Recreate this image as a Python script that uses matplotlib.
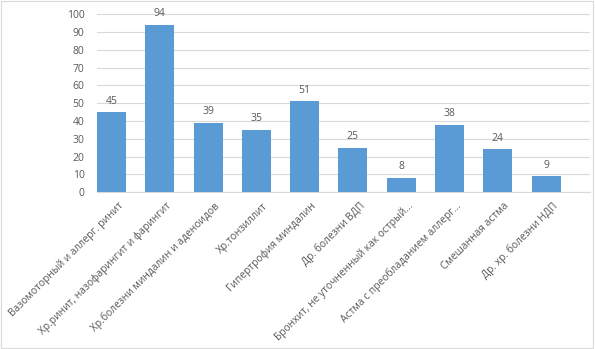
import matplotlib.pyplot as plt
import matplotlib.transforms as mtransforms
from matplotlib.patches import Rectangle

categories = [
    "Вазомоторный и аллерг. ринит",
    "Хр.ринит, назофарингит и фарингит",
    "Хр.болезни миндалин и аденоидов",
    "Хр.тонзиллит",
    "Гипертрофия миндалин",
    "Др. болезни ВДП",
    "Бронхит, не уточненный как острый...",
    "Астма с преобладанием аллерг...",
    "Смешанная астма",
    "Др. хр. болезни НДП",
]
values = [45, 94, 39, 35, 51, 25, 8, 38, 24, 9]

plt.rcParams['font.family'] = ['Open Sans', 'DejaVu Sans']
text_color = "#595959"

fig = plt.figure(figsize=(5.95, 3.49), dpi=100)
ax = fig.add_axes([0.163, 0.4496, 0.8286, 0.5095])

x = list(range(len(values)))
bars = ax.bar(x, values, width=0.6, color="#5b9bd5", zorder=3)
for b, v in zip(bars, values):
    ax.annotate(str(v), (b.get_x() + b.get_width() / 2, v), xytext=(0, 4),
                textcoords="offset points", ha="center", va="bottom",
                fontsize=7.5, color=text_color)

ax.set_xlim(-0.30, 9.91)
ax.set_ylim(0, 100)
ax.set_yticks(range(0, 101, 10))
ax.yaxis.grid(True, color="#d9d9d9", linewidth=0.8, zorder=0)
ax.tick_params(axis="y", length=0, labelsize=7.5, labelcolor=text_color, pad=9)
ax.tick_params(axis="x", length=0, pad=6)
ax.set_xticks(x)
ax.set_xticklabels(categories, rotation=45, ha="right", rotation_mode="anchor",
                   fontsize=7.4, color=text_color)
shift = mtransforms.ScaledTranslation(6 / 100, 0, fig.dpi_scale_trans)
for lbl in ax.get_xticklabels():
    lbl.set_transform(lbl.get_transform() + shift)
for spine in ["top", "right", "left"]:
    ax.spines[spine].set_visible(False)
ax.spines["bottom"].set_color("#d9d9d9")

fig.patches.append(Rectangle((0.002, 0.003), 0.995, 0.993, transform=fig.transFigure,
                             fill=False, edgecolor="#d9d9d9", linewidth=0.8))

fig.savefig("out.png", dpi=100)
